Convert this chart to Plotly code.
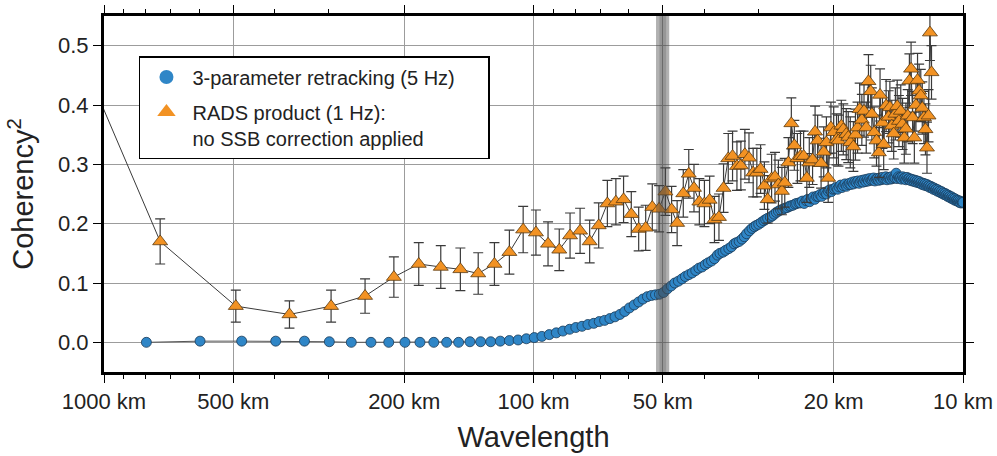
import plotly.graph_objects as go

# ---------------- data ----------------
# 3-parameter retracking (5 Hz): wavelength (km) and squared coherency
blue_wavelength_km = [
    796.7, 597.5, 478.0, 398.3, 341.4, 298.8, 265.6, 239.0, 217.3, 199.2,
    183.8, 170.7, 159.3, 149.4, 140.6, 132.8, 125.8, 119.5, 113.8, 108.6,
    103.9, 99.6, 95.6, 91.9, 88.5, 85.4, 82.4, 79.7, 77.1, 74.7,
    72.4, 70.3, 68.3, 66.4, 64.6, 62.9, 61.3, 59.8, 58.3, 56.9,
    55.6, 54.3, 53.1, 52.0, 50.9, 49.8, 48.8, 47.8, 46.9, 46.0,
    45.1, 44.3, 43.5, 42.7, 41.9, 41.2, 40.5, 39.8, 39.2, 38.5,
    37.9, 37.3, 36.8, 36.2, 35.7, 35.1, 34.6, 34.1, 33.7, 33.2,
    32.7, 32.3, 31.9, 31.4, 31.0, 30.6, 30.3, 29.9, 29.5, 29.1,
    28.8, 28.5, 28.1, 27.8, 27.5, 27.2, 26.9, 26.6, 26.3, 26.0,
    25.7, 25.4, 25.2, 24.9, 24.6, 24.4, 24.1, 23.9, 23.66, 23.43,
    23.20, 22.98, 22.76, 22.55, 22.34, 22.13, 21.93, 21.73, 21.53, 21.34,
    21.15, 20.96, 20.78, 20.60, 20.43, 20.25, 20.08, 19.92, 19.75, 19.59,
    19.43, 19.27, 19.12, 18.97, 18.82, 18.67, 18.53, 18.38, 18.24, 18.11,
    17.97, 17.84, 17.70, 17.57, 17.45, 17.32, 17.19, 17.07, 16.95, 16.83,
    16.71, 16.60, 16.48, 16.37, 16.26, 16.15, 16.04, 15.93, 15.83, 15.72,
    15.62, 15.52, 15.42, 15.32, 15.22, 15.13, 15.03, 14.94, 14.84, 14.75,
    14.66, 14.57, 14.48, 14.40, 14.31, 14.23, 14.14, 14.06, 13.98, 13.90,
    13.82, 13.74, 13.66, 13.58, 13.50, 13.43, 13.35, 13.28, 13.20, 13.13,
    13.06, 12.99, 12.92, 12.85, 12.78, 12.71, 12.65, 12.58, 12.51, 12.45,
    12.38, 12.32, 12.26, 12.19, 12.13, 12.07, 12.01, 11.95, 11.89, 11.83,
    11.77, 11.72, 11.66, 11.60, 11.55, 11.49, 11.44, 11.38, 11.33, 11.27,
    11.22, 11.17, 11.12, 11.06, 11.01, 10.96, 10.91, 10.86, 10.81, 10.77,
    10.72, 10.67, 10.62, 10.58, 10.53, 10.48, 10.44, 10.39, 10.35, 10.30,
    10.26, 10.21, 10.17, 10.13, 10.08, 10.04, 10.00,
]
blue_coherency = [
    0.000, 0.002, 0.002, 0.002, 0.002, 0.001, 0.000, 0.000, 0.000, 0.000,
    0.000, 0.000, 0.000, 0.000, 0.001, 0.001, 0.001, 0.002,
    0.003, 0.004, 0.006, 0.008, 0.010, 0.013, 0.016, 0.019, 0.022, 0.025,
    0.027, 0.030, 0.032, 0.035, 0.037, 0.040, 0.043, 0.047, 0.052, 0.058,
    0.063, 0.068, 0.073, 0.077, 0.079, 0.080, 0.081, 0.084, 0.090, 0.095,
    0.100, 0.103, 0.107, 0.111, 0.114, 0.117, 0.121, 0.125, 0.127, 0.131,
    0.134, 0.137, 0.141, 0.147, 0.150, 0.152, 0.155, 0.158, 0.161, 0.166,
    0.168, 0.170, 0.174, 0.178, 0.183, 0.188, 0.192, 0.195, 0.197, 0.199,
    0.202, 0.205, 0.207, 0.209, 0.211, 0.213, 0.216, 0.219, 0.221, 0.223,
    0.224, 0.226, 0.227, 0.229, 0.230, 0.231, 0.233, 0.234, 0.235, 0.235,
    0.238, 0.234, 0.239, 0.241, 0.237, 0.242, 0.245, 0.241, 0.246, 0.246,
    0.249, 0.246, 0.251, 0.253, 0.250, 0.255, 0.257, 0.254, 0.258, 0.259,
    0.261, 0.258, 0.262, 0.265, 0.261, 0.264, 0.267, 0.263, 0.266, 0.268,
    0.266, 0.270, 0.267, 0.271, 0.269, 0.272, 0.268, 0.271, 0.273, 0.270,
    0.274, 0.271, 0.275, 0.272, 0.276, 0.273, 0.274, 0.277, 0.272, 0.275,
    0.276, 0.273, 0.277, 0.274, 0.278, 0.275, 0.276, 0.279, 0.274, 0.277,
    0.278, 0.275, 0.279, 0.276, 0.278, 0.277, 0.285, 0.276, 0.279, 0.277,
    0.278, 0.275, 0.279, 0.276, 0.277, 0.274, 0.278, 0.275, 0.276, 0.273,
    0.275, 0.272, 0.274, 0.271, 0.273, 0.270, 0.272, 0.269, 0.271, 0.268,
    0.269, 0.266, 0.268, 0.265, 0.267, 0.264, 0.266, 0.263, 0.264, 0.261,
    0.263, 0.260, 0.261, 0.258, 0.260, 0.257, 0.258, 0.255, 0.257, 0.254,
    0.255, 0.252, 0.254, 0.251, 0.252, 0.249, 0.251, 0.248, 0.249, 0.246,
    0.248, 0.245, 0.246, 0.243, 0.245, 0.242, 0.243, 0.240, 0.242, 0.239,
    0.240, 0.238, 0.239, 0.236, 0.238, 0.235, 0.237, 0.235, 0.236,
]

# RADS product (1 Hz), no SSB correction applied
rads_wavelength_km = [
    1480.0, 740.0, 493.3, 370.0, 296.0, 246.7, 211.4, 185.0, 164.4, 148.0,
    134.5, 123.3, 113.8, 105.7, 98.7, 92.5, 87.1, 82.2, 77.9, 74.0,
    70.5, 67.3, 64.3, 61.7, 59.2, 56.9, 54.8, 52.9, 51.0, 49.3,
    47.7, 46.3, 44.8, 43.5, 42.3, 41.1, 40.0, 38.9, 37.9, 37.0,
    36.1, 35.2, 34.4, 33.6, 32.9, 32.2, 31.5, 30.8, 30.2, 29.6,
    29.0, 28.5, 27.9, 27.4, 26.9, 26.4, 26.0, 25.5, 25.1, 24.7,
    24.3, 23.9, 23.5, 23.1, 22.8, 22.4, 22.1, 21.8, 21.4, 21.1,
    20.8, 20.6, 20.3, 20.0, 19.7, 19.5, 19.2, 19.0, 18.7, 18.5,
    18.3, 18.0, 17.8, 17.6, 17.4, 17.2, 17.0, 16.8, 16.6, 16.4,
    16.3, 16.1, 15.9, 15.7, 15.6, 15.4, 15.3, 15.1, 14.9, 14.8,
    14.65, 14.5, 14.37, 14.23, 14.1, 13.96, 13.83, 13.7, 13.58, 13.45,
    13.33, 13.21, 13.1, 12.98, 12.87, 12.76, 12.65, 12.54, 12.44, 12.33,
    12.23, 12.13, 12.03, 11.94, 11.84,
]
rads_coherency = [
    0.680, 0.170, 0.061, 0.047, 0.061, 0.078, 0.110, 0.132, 0.127, 0.123,
    0.116, 0.132, 0.152, 0.190, 0.185, 0.166, 0.156, 0.180, 0.188, 0.170,
    0.197, 0.234, 0.237, 0.241, 0.216, 0.191, 0.193, 0.228, 0.225, 0.254,
    0.224, 0.201, 0.251, 0.284, 0.260, 0.237, 0.234, 0.240, 0.207, 0.211,
    0.260, 0.310, 0.314, 0.297, 0.298, 0.317, 0.311, 0.286, 0.286, 0.292,
    0.264, 0.241, 0.276, 0.279, 0.266, 0.255, 0.269, 0.303, 0.369, 0.332,
    0.310, 0.314, 0.314, 0.277, 0.303, 0.308, 0.355, 0.340, 0.302, 0.321,
    0.337, 0.277, 0.362, 0.354, 0.342, 0.340, 0.365, 0.359, 0.351, 0.346,
    0.337, 0.330, 0.350, 0.362, 0.393, 0.375, 0.390, 0.362, 0.440, 0.423,
    0.385, 0.354, 0.340, 0.320, 0.417, 0.370, 0.334, 0.399, 0.380, 0.396,
    0.365, 0.352, 0.385, 0.398, 0.373, 0.390, 0.368, 0.345, 0.360, 0.382,
    0.441, 0.461, 0.379, 0.345, 0.400, 0.442, 0.424, 0.416, 0.395, 0.379,
    0.359, 0.328, 0.382, 0.522, 0.455,
]
rads_error = [
    0.050, 0.038, 0.027, 0.023, 0.027, 0.029, 0.034, 0.036, 0.036, 0.036,
    0.035, 0.036, 0.037, 0.039, 0.038, 0.037, 0.035, 0.038, 0.038, 0.036,
    0.038, 0.039, 0.039, 0.039, 0.038, 0.037, 0.038, 0.039, 0.039, 0.040,
    0.039, 0.038, 0.040, 0.041, 0.040, 0.039, 0.039, 0.040, 0.039, 0.039,
    0.041, 0.042, 0.042, 0.041, 0.041, 0.042, 0.042, 0.041, 0.041, 0.041,
    0.040, 0.040, 0.041, 0.041, 0.041, 0.040, 0.041, 0.042, 0.043, 0.042,
    0.042, 0.042, 0.042, 0.041, 0.042, 0.042, 0.043, 0.043, 0.042, 0.042,
    0.043, 0.041, 0.043, 0.043, 0.043, 0.043, 0.043, 0.043, 0.043, 0.043,
    0.043, 0.042, 0.043, 0.043, 0.044, 0.043, 0.044, 0.043, 0.045, 0.044,
    0.044, 0.043, 0.043, 0.042, 0.044, 0.043, 0.043, 0.044, 0.044, 0.044,
    0.043, 0.043, 0.044, 0.044, 0.043, 0.044, 0.043, 0.043, 0.043, 0.044,
    0.045, 0.045, 0.044, 0.043, 0.044, 0.045, 0.045, 0.044, 0.044, 0.044,
    0.043, 0.043, 0.044, 0.047, 0.045,
]

x_tick_values = [1000, 500, 200, 100, 50, 20, 10]
x_tick_labels = ["1000 km", "500 km", "200 km", "100 km", "50 km", "20 km", "10 km"]
y_tick_values = [0.0, 0.1, 0.2, 0.3, 0.4, 0.5]
band_km = [48.3, 51.85]          # shaded band near 50 km
band_core_km = [49.1, 50.9]
y_range = [-0.05, 0.55]

legend_names = ["3-parameter retracking (5 Hz)\u00a0\u00a0\u00a0\u00a0\u00a0",
                "RADS product (1 Hz):<br>no SSB correction applied"]

# ---------------- styling ----------------
FONT = "Liberation Sans, Arial, Helvetica, sans-serif"
BLUE = "#2f86c7"
ORANGE = "#f29223"
TXT = "#222222"

fig = go.Figure()

fig.add_trace(go.Scatter(
    x=blue_wavelength_km, y=blue_coherency, mode="lines+markers",
    line=dict(color="#555555", width=1),
    marker=dict(symbol="circle", size=10, color=BLUE,
                line=dict(color="#1b3a57", width=0.8)),
    showlegend=False, hoverinfo="skip"))

fig.add_trace(go.Scatter(
    x=rads_wavelength_km, y=rads_coherency, mode="lines+markers",
    line=dict(color="#3a3a3a", width=1),
    error_y=dict(type="data", array=rads_error, visible=True,
                 color="#3a3a3a", thickness=1.2, width=5),
    marker=dict(symbol="triangle-up", size=13, color=ORANGE,
                line=dict(color="#5a3a10", width=0.8)),
    showlegend=False, hoverinfo="skip"))

# shaded band (drawn above data)
fig.add_trace(go.Scatter(
    x=[band_km[0], band_km[1], band_km[1], band_km[0]],
    y=[y_range[0], y_range[0], y_range[1], y_range[1]],
    mode="lines", fill="toself", fillcolor="rgba(70,70,70,0.42)",
    line=dict(width=0), showlegend=False, hoverinfo="skip"))
fig.add_trace(go.Scatter(
    x=[band_core_km[0], band_core_km[1], band_core_km[1], band_core_km[0]],
    y=[y_range[0], y_range[0], y_range[1], y_range[1]],
    mode="lines", fill="toself", fillcolor="rgba(70,70,70,0.25)",
    line=dict(width=0), showlegend=False, hoverinfo="skip"))

# legend entries
fig.add_trace(go.Scatter(
    x=[None], y=[None], mode="markers", name=legend_names[0], legendgroup="g1",
    marker=dict(symbol="circle", size=14, color=BLUE, line=dict(width=0))))
fig.add_trace(go.Scatter(
    x=[None], y=[None], mode="markers", name=legend_names[1], legendgroup="g2",
    marker=dict(symbol="triangle-up", size=18, color=ORANGE, line=dict(width=0))))

fig.update_layout(
    width=997, height=456,
    margin=dict(l=104, r=34, t=16, b=84, autoexpand=False),
    paper_bgcolor="white", plot_bgcolor="white",
    font=dict(family=FONT, color=TXT, size=22),
    legend=dict(
        x=0.0407, y=0.8876, xanchor="left", yanchor="top",
        bgcolor="white", bordercolor="black", borderwidth=1.5,
        font=dict(family=FONT, size=20, color=TXT),
        itemwidth=42, valign="top", tracegroupgap=6,
        traceorder="grouped",
    ),
)

fig.update_xaxes(
    type="log", range=[3, 1], automargin=False,
    tickmode="array", tickvals=x_tick_values, ticktext=x_tick_labels,
    ticks="outside", ticklen=8, tickwidth=1, tickcolor="black",
    minor=dict(dtick="D1", ticks="outside", ticklen=4, tickwidth=1,
               tickcolor="black", showgrid=False),
    showline=True, linewidth=3, linecolor="black", mirror="allticks",
    showgrid=True, gridcolor="#9c9c9c", gridwidth=1,
    tickfont=dict(size=22, color=TXT),
    title=dict(text="Wavelength", font=dict(size=29, color=TXT), standoff=14),
    zeroline=False,
)
fig.update_yaxes(
    range=y_range, automargin=False,
    tickmode="array", tickvals=y_tick_values, tickformat=".1f",
    ticks="outside", ticklen=8, tickwidth=1, tickcolor="black",
    showline=True, linewidth=3, linecolor="black", mirror="allticks",
    showgrid=True, gridcolor="#9c9c9c", gridwidth=1,
    tickfont=dict(size=22, color=TXT),
    title=dict(text="Coherency<sup>2</sup>", font=dict(size=29, color=TXT), standoff=16),
    zeroline=False,
)

fig.write_html("out.html")
